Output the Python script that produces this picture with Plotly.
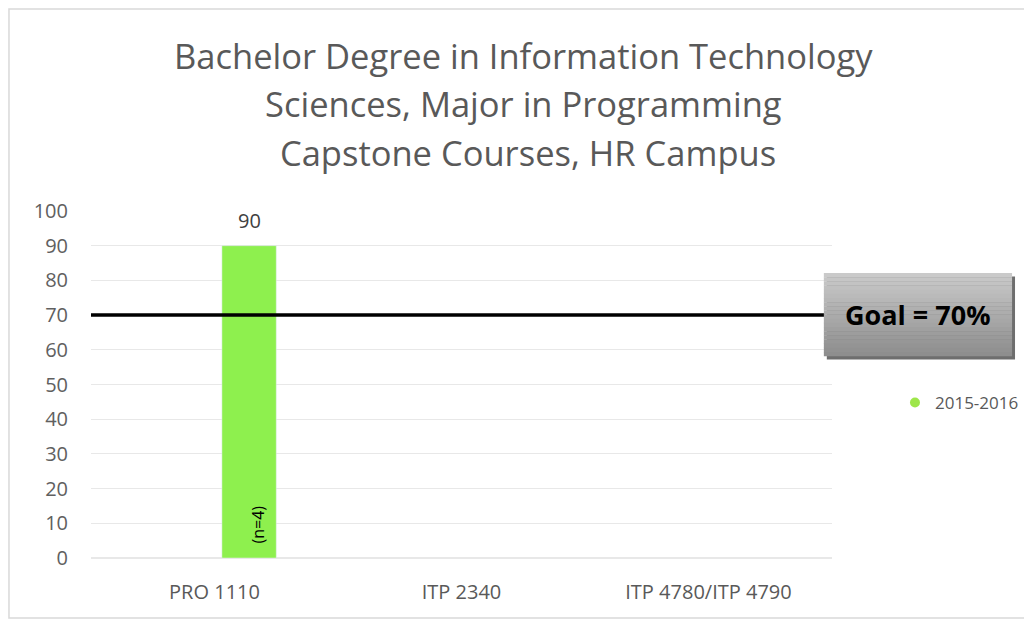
import plotly.graph_objects as go

categories = ["PRO 1110", "ITP 2340", "ITP 4780/ITP 4790"]
values_2015 = [90, None, None]
series_name = "2015-2016"
n_labels = ["(n=4)", "", ""]
goal = 70
y_ticks = list(range(0, 101, 10))
title_lines = ["Bachelor Degree in Information Technology",
               "Sciences, Major in Programming",
               " Capstone Courses, HR Campus"]

fig = go.Figure()
fig.add_trace(go.Bar(
    x=categories, y=values_2015, name=series_name,
    marker=dict(color="#8ef04e"), width=0.22, offset=0.03,
    cliponaxis=False, showlegend=False,
))
fig.add_trace(go.Scatter(
    x=[None], y=[None], mode="markers", name=series_name,
    marker=dict(color="#9ee64a", size=10, symbol="circle"),
))

# value labels and n labels
for c, v, lab in zip(categories, values_2015, n_labels):
    if v is None:
        continue
    fig.add_annotation(x=c, y=v, text=str(v), showarrow=False, xshift=35,
                       yanchor="bottom", yshift=10, xanchor="center",
                       font=dict(size=20, color="#404040", family="Open Sans"))
    if lab:
        fig.add_annotation(x=c, y=0, text=lab, textangle=-90, showarrow=False,
                           xshift=43, yanchor="bottom", yshift=12, xanchor="center",
                           font=dict(size=16, color="#000000", family="Open Sans"))

# Goal line
fig.add_shape(type="line", xref="paper", yref="y", x0=0, x1=0.99, y0=goal, y1=goal,
              line=dict(color="#000000", width=3.5))

# Goal box with gradient strips
bx0, bx1 = 0.989, 1.243
ytop, ybot = 82.1, 58.2
fig.add_shape(type="rect", xref="paper", yref="y", x0=bx0 + 0.004, x1=bx1 + 0.004,
              y0=ybot - 1.0, y1=ytop - 1.0, fillcolor="#6e6e6e", line=dict(width=0), layer="above")
nstrips = 20
c_top = (202, 202, 202)
c_bot = (142, 142, 142)
for i in range(nstrips):
    t = i / (nstrips - 1)
    col = tuple(int(c_top[k] + (c_bot[k] - c_top[k]) * t) for k in range(3))
    y1 = ytop - (ytop - ybot) * i / nstrips
    y0 = ytop - (ytop - ybot) * (i + 1) / nstrips
    fig.add_shape(type="rect", xref="paper", yref="y", x0=bx0, x1=bx1, y0=y0 - 0.08, y1=y1,
                  fillcolor="rgb(%d,%d,%d)" % col, line=dict(width=0), layer="above")
fig.add_annotation(xref="paper", yref="y", x=(bx0 + bx1) / 2, y=(ytop + ybot) / 2,
                   xanchor="center", yanchor="middle",
                   text="<b>Goal = 70%</b>", showarrow=False,
                   font=dict(size=27, color="#000000", family="Open Sans"))

# title lines
for yy, line in zip([1.447, 1.311, 1.170], title_lines):
    fig.add_annotation(xref="paper", yref="paper", x=0.584, y=yy, xanchor="center",
                       yanchor="middle", text=line, showarrow=False,
                       font=dict(size=34.5, color="#595959", family="Open Sans"))

# outer border
fig.add_shape(type="rect", xref="paper", yref="paper", x0=-0.1107, x1=1.2686, y0=-0.173, y1=1.582,
              line=dict(color="#d9d9d9", width=1.5), fillcolor="rgba(0,0,0,0)")

fig.update_layout(
    width=1024, height=616,
    margin=dict(l=83, r=200, t=203, b=66, autoexpand=False),
    paper_bgcolor="white", plot_bgcolor="white",
    xaxis=dict(tickfont=dict(size=20, color="#595959", family="Open Sans"), showline=False,
               showgrid=False, ticks="", range=[-0.5, 2.5], ticklabelstandoff=20),
    yaxis=dict(range=[0, 100], tickvals=y_ticks, showgrid=True, gridcolor="#e8e8e8",
               gridwidth=1, zeroline=True, zerolinecolor="#e8e8e8",
               tickfont=dict(size=20, color="#606060", family="Open Sans"), ticks="",
               ticklabelstandoff=22, fixedrange=True),
    legend=dict(x=1.085, y=0.447, xanchor="left", yanchor="middle",
                font=dict(size=17, color="#595959", family="Open Sans"), bgcolor="rgba(0,0,0,0)"),
)
fig.write_html("out.html")
